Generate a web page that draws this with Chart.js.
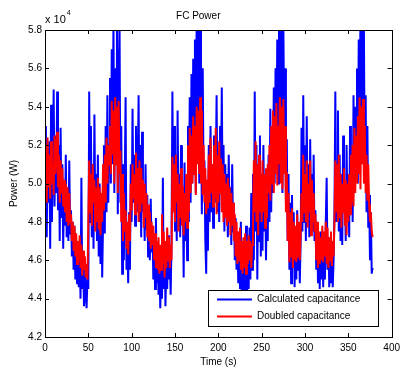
<!DOCTYPE html>
<html lang="en">
<head>
  <meta charset="UTF-8">
  <title>FC Power</title>
  <script src="https://cdn.jsdelivr.net/npm/chart.js"></script>
  <style>
    html, body { margin: 0; padding: 0; background: #fff; }
    #wrap { width: 405px; height: 367px; }
  </style>
</head>
<body>
  <div id="wrap"><canvas id="fcChart" width="405" height="367"></canvas></div>

  <script>
    // sampling step of the time series (s)
    var timeStep = 1;
    var xTicks = [0, 50, 100, 150, 200, 250, 300, 350, 400];
    var yTicks = [4.2, 4.4, 4.6, 4.8, 5.0, 5.2, 5.4, 5.6, 5.8];
    var seriesNames = ['Calculated capacitance', 'Doubled capacitance'];

    // FC power, x 10^4 W (0..378 s)
    var calcPower = [
      5.05, 5.30, 4.72, 5.18, 4.90, 5.22, 4.66, 5.41, 4.80, 5.12,
      5.49, 4.88, 5.25, 4.95, 5.48, 4.86, 5.20, 4.70, 5.29, 4.82,
      5.10, 4.66, 5.02, 4.78, 5.15, 4.72, 4.98, 4.70, 5.12, 4.74,
      4.86, 4.62, 4.80, 4.55, 4.78, 4.50, 4.70, 4.48, 4.66, 4.46,
      4.62, 4.40, 5.03, 4.45, 4.60, 4.36, 4.55, 4.42, 4.35, 4.52,
      4.45, 5.48, 4.80, 5.30, 4.72, 5.10, 4.66, 5.36, 4.85, 5.05,
      4.70, 5.15, 4.62, 5.00, 4.58, 4.95, 4.51, 4.80, 5.20, 4.74,
      5.30, 4.85, 5.46, 4.90, 5.20, 5.55, 5.00, 5.70, 5.10, 5.85,
      4.95, 5.60, 5.20, 5.90, 4.84, 5.50, 5.85, 4.90, 5.30, 4.53,
      5.10, 4.60, 5.00, 5.45, 4.55, 4.70, 4.48, 4.85, 4.55, 5.10,
      4.80, 5.39, 4.90, 5.15, 4.78, 5.30, 4.85, 5.05, 5.46, 4.80,
      5.20, 4.72, 5.27, 4.85, 5.00, 4.70, 5.10, 4.76, 4.94, 4.62,
      4.85, 4.60, 4.92, 4.64, 4.78, 4.50, 4.70, 4.45, 4.82, 4.48,
      4.65, 4.42, 4.60, 4.35, 4.55, 4.40, 5.03, 4.45, 4.70, 4.36,
      4.60, 4.45, 4.73, 4.50, 4.62, 4.42, 4.70, 5.48, 4.85, 5.30,
      4.75, 5.15, 4.70, 5.38, 4.88, 5.05, 4.72, 5.20, 4.80, 4.95,
      4.51, 5.11, 4.70, 4.95, 4.60, 5.30, 4.80, 5.45, 4.90, 5.57,
      5.00, 5.65, 5.20, 5.75, 4.95, 5.90, 5.30, 5.85, 5.00, 5.80,
      5.40, 4.84, 5.60, 5.00, 5.12, 4.70, 4.53, 5.00, 4.65, 5.20,
      4.80, 5.30, 4.85, 5.10, 4.77, 5.25, 4.90, 5.05, 5.46, 4.85,
      5.15, 4.80, 5.30, 4.95, 5.50, 4.90, 5.20, 4.75, 5.10, 4.85,
      5.05, 4.72, 5.15, 4.80, 4.98, 4.68, 5.10, 4.75, 4.90, 4.60,
      4.82, 4.55, 4.75, 4.48, 4.70, 4.45, 4.80, 4.40, 4.65, 4.38,
      4.60, 4.42, 4.78, 4.40, 4.62, 4.45, 4.77, 4.50, 4.95, 4.55,
      5.05, 4.60, 5.48, 4.75, 5.20, 4.50, 5.10, 4.70, 5.25, 4.62,
      5.00, 4.65, 5.20, 4.75, 5.05, 4.60, 4.95, 4.70, 5.15, 4.80,
      5.39, 4.85, 5.25, 4.95, 5.50, 5.00, 5.60, 5.10, 5.75, 5.00,
      5.85, 5.20, 5.70, 5.90, 4.95, 5.85, 5.30, 5.60, 4.90, 5.23,
      4.70, 5.05, 4.55, 4.90, 4.48, 4.94, 4.60, 4.85, 4.46, 4.75,
      4.50, 4.86, 4.55, 4.80, 4.48, 4.70, 5.29, 4.75, 5.46, 4.80,
      5.20, 4.70, 5.35, 4.85, 5.10, 4.72, 5.23, 4.80, 5.05, 4.75,
      5.15, 4.70, 4.86, 4.55, 4.80, 4.48, 4.70, 4.45, 4.75, 4.50,
      4.75, 4.46, 4.70, 4.50, 4.80, 5.03, 4.55, 4.72, 4.46, 4.65,
      4.48, 4.70, 4.46, 4.60, 4.85, 5.48, 4.80, 5.10, 5.38, 4.75,
      5.15, 4.70, 5.05, 4.68, 5.25, 4.85, 5.00, 4.70, 5.20, 4.80,
      5.05, 4.72, 5.30, 4.85, 5.15, 4.80, 5.46, 4.95, 5.40, 5.10,
      5.60, 5.00, 5.75, 5.20, 5.90, 5.10, 5.85, 5.30, 5.80, 5.00,
      5.46, 4.85, 5.30, 4.77, 4.94, 4.60, 4.85, 4.53, 4.56
    ];

    var doubledPower = [
      4.95, 5.20, 4.90, 5.24, 4.98, 5.15, 4.92, 5.22, 5.00, 5.10,
      4.94, 5.25, 5.05, 5.18, 5.27, 4.98, 5.15, 4.90, 5.12, 4.95,
      5.08, 4.88, 5.02, 4.85, 5.00, 4.80, 4.98, 4.78, 4.95, 4.80,
      4.84, 4.70, 4.80, 4.65, 4.78, 4.62, 4.74, 4.58, 4.70, 4.60,
      4.73, 4.56, 4.68, 4.52, 4.65, 4.55, 4.62, 4.51, 4.58, 4.50,
      4.80, 5.12, 4.85, 5.05, 4.78, 5.10, 4.90, 5.02, 4.75, 4.98,
      4.80, 5.03, 4.76, 4.98, 4.73, 4.95, 4.80, 5.10, 4.86, 5.15,
      4.90, 5.24, 5.00, 5.20, 5.10, 5.30, 5.05, 5.43, 5.15, 5.38,
      5.00, 5.45, 5.10, 5.40, 4.95, 5.43, 5.05, 5.17, 4.80, 5.05,
      4.70, 4.95, 4.75, 4.86, 4.66, 4.80, 4.63, 4.84, 4.70, 5.00,
      4.86, 5.10, 4.92, 5.05, 4.84, 5.16, 4.90, 5.08, 4.80, 5.12,
      4.85, 5.08, 4.90, 5.02, 4.77, 5.00, 4.82, 4.95, 4.72, 4.89,
      4.70, 4.85, 4.66, 4.80, 4.68, 4.78, 4.60, 4.74, 4.56, 4.70,
      4.55, 4.72, 4.53, 4.68, 4.55, 4.84, 4.58, 4.75, 4.51, 4.70,
      4.56, 4.77, 4.60, 4.72, 4.56, 4.68, 4.60, 5.14, 4.85, 5.10,
      4.80, 5.15, 4.90, 5.05, 4.75, 5.00, 4.82, 5.08, 4.78, 4.99,
      4.73, 4.95, 4.80, 5.05, 4.77, 5.20, 4.85, 5.29, 4.95, 5.25,
      5.00, 5.35, 5.05, 5.30, 4.94, 5.40, 5.10, 5.38, 5.05, 5.45,
      5.00, 5.38, 4.94, 5.20, 4.90, 5.08, 4.84, 5.02, 4.87, 5.15,
      4.90, 5.24, 4.95, 5.10, 4.88, 5.20, 4.92, 5.29, 4.84, 5.15,
      4.90, 5.22, 4.95, 5.13, 4.85, 5.10, 4.80, 5.05, 4.82, 5.00,
      4.78, 5.03, 4.80, 4.98, 4.73, 4.95, 4.78, 4.90, 4.70, 4.84,
      4.62, 4.80, 4.58, 4.75, 4.60, 4.77, 4.55, 4.70, 4.53, 4.72,
      4.56, 4.74, 4.53, 4.70, 4.58, 4.73, 4.60, 4.70, 4.56, 4.68,
      4.75, 5.12, 4.85, 5.22, 4.80, 5.10, 4.73, 5.15, 4.85, 5.05,
      4.80, 5.12, 4.85, 5.05, 4.77, 5.08, 4.82, 5.10, 4.95, 5.20,
      4.91, 5.30, 5.00, 5.38, 4.95, 5.35, 5.05, 5.42, 4.99, 5.30,
      5.10, 5.45, 5.00, 5.40, 4.97, 5.44, 5.05, 5.30, 4.85, 5.06,
      4.70, 4.95, 4.59, 4.85, 4.62, 4.87, 4.56, 4.80, 4.60, 4.78,
      4.59, 4.84, 4.62, 4.80, 4.60, 4.75, 4.95, 4.80, 5.15, 4.85,
      5.05, 4.80, 5.12, 4.77, 5.00, 4.85, 5.12, 4.73, 5.02, 4.80,
      4.95, 4.75, 4.84, 4.60, 4.80, 4.56, 4.75, 4.58, 4.72, 4.60,
      4.78, 4.59, 4.75, 4.62, 4.80, 4.58, 4.77, 4.56, 4.72, 4.60,
      4.75, 4.57, 4.70, 4.62, 4.80, 5.12, 4.85, 5.10, 4.80, 5.15,
      4.82, 5.05, 4.77, 5.00, 4.85, 5.08, 4.78, 5.02, 4.73, 5.00,
      4.80, 5.05, 4.84, 5.15, 4.90, 5.20, 4.88, 5.29, 4.95, 5.25,
      5.00, 5.35, 5.05, 5.45, 4.97, 5.40, 5.10, 5.44, 5.00, 5.30,
      4.95, 5.15, 4.91, 5.10, 4.89, 4.80, 4.85, 4.75, 4.72
    ];

    function toPoints(values) {
      return values.map(function(v, i) { return { x: i * timeStep, y: v }; });
    }

    // box with inward ticks, MATLAB style, plus legend and the x 10^4 note
    var matlabFrame = {
      id: 'matlabFrame',
      afterDatasetsDraw: function(chart) {
        var ctx = chart.ctx;
        var a = chart.chartArea;
        var xs = chart.scales.x;
        var ys = chart.scales.y;
        var tick = 4;

        ctx.save();
        ctx.strokeStyle = '#000';
        ctx.lineWidth = 1;
        ctx.beginPath();
        xs.ticks.forEach(function(t) {
          var px = Math.round(xs.getPixelForValue(t.value)) + 0.5;
          ctx.moveTo(px, a.bottom); ctx.lineTo(px, a.bottom - tick);
          ctx.moveTo(px, a.top); ctx.lineTo(px, a.top + tick);
        });
        ys.ticks.forEach(function(t) {
          var py = Math.round(ys.getPixelForValue(t.value)) + 0.5;
          ctx.moveTo(a.left, py); ctx.lineTo(a.left + tick, py);
          ctx.moveTo(a.right, py); ctx.lineTo(a.right - tick, py);
        });
        ctx.stroke();
        ctx.strokeRect(Math.round(a.left) + 0.5, Math.round(a.top) + 0.5,
          Math.round(a.right - a.left), Math.round(a.bottom - a.top));

        // legend box inside the axes
        var lx = 208, ly = 290, lw = 170, lh = 36;
        ctx.fillStyle = '#fff';
        ctx.fillRect(lx, ly, lw, lh);
        ctx.strokeRect(lx + 0.5, ly + 0.5, lw, lh);
        ctx.font = '10px "Liberation Sans", Arial, sans-serif';
        ctx.textBaseline = 'middle';
        chart.data.datasets.forEach(function(ds, i) {
          var y = ly + 9.5 + i * 17;
          ctx.strokeStyle = ds.borderColor;
          ctx.lineWidth = 2;
          ctx.beginPath();
          ctx.moveTo(lx + 9, y); ctx.lineTo(lx + 44, y);
          ctx.stroke();
          ctx.fillStyle = '#000';
          ctx.fillText(ds.label, lx + 49, y);
        });

        // exponent note above the y axis
        ctx.fillStyle = '#000';
        ctx.font = '11px "Liberation Sans", Arial, sans-serif';
        ctx.fillText('x 10', a.left, 20);
        var w = ctx.measureText('x 10').width;
        ctx.font = '7px "Liberation Sans", Arial, sans-serif';
        ctx.fillText('4', a.left + w + 1, 13);
        ctx.restore();
      }
    };

    var font = { family: '"Liberation Sans", Arial, sans-serif', size: 10 };

    new Chart(document.getElementById('fcChart').getContext('2d'), {
      type: 'line',
      data: {
        datasets: [{
          label: seriesNames[0],
          data: toPoints(calcPower),
          borderColor: 'rgb(0, 0, 255)',
          borderWidth: 2,
          pointRadius: 0,
          tension: 0,
          clip: 0,
          order: 1
        }, {
          // drawn on top of the blue trace
          label: seriesNames[1],
          data: toPoints(doubledPower),
          borderColor: 'rgb(255, 0, 0)',
          borderWidth: 2,
          pointRadius: 0,
          tension: 0,
          clip: 0,
          order: 0
        }]
      },
      options: {
        responsive: false,
        animation: false,
        layout: { padding: { top: 0, right: 8.5, bottom: 0, left: 0 } },
        plugins: {
          legend: { display: false },
          tooltip: { enabled: false },
          title: {
            display: true,
            text: 'FC Power',
            color: '#000',
            font: { family: font.family, size: 10, weight: 'normal', lineHeight: 1.2 },
            padding: { top: 10, bottom: 8 }
          }
        },
        scales: {
          x: {
            type: 'linear',
            min: 0,
            max: 400,
            afterBuildTicks: function(scale) {
              scale.ticks = xTicks.map(function(v) { return { value: v }; });
            },
            afterFit: function(scale) { scale.height = 30; },
            grid: { display: false, drawTicks: false },
            border: { display: false },
            ticks: { color: '#000', font: font, padding: 5, maxRotation: 0 },
            title: {
              display: true,
              text: 'Time (s)',
              color: '#000',
              font: { family: font.family, size: 10, lineHeight: 1 },
              padding: { top: 0, bottom: 0 }
            }
          },
          y: {
            min: 4.2,
            max: 5.8,
            afterBuildTicks: function(scale) {
              scale.ticks = yTicks.map(function(v) { return { value: v }; });
            },
            afterFit: function(scale) { scale.width = 45; },
            grid: { display: false, drawTicks: false },
            border: { display: false },
            ticks: {
              color: '#000',
              font: font,
              padding: 3,
              callback: function(v) { return Number(v).toFixed(1); }
            },
            title: {
              display: true,
              text: 'Power (W)',
              color: '#000',
              font: { family: font.family, size: 10, lineHeight: 1.2 },
              padding: { top: 8, bottom: 0 }
            }
          }
        }
      },
      plugins: [matlabFrame]
    });
  </script>
</body>
</html>
